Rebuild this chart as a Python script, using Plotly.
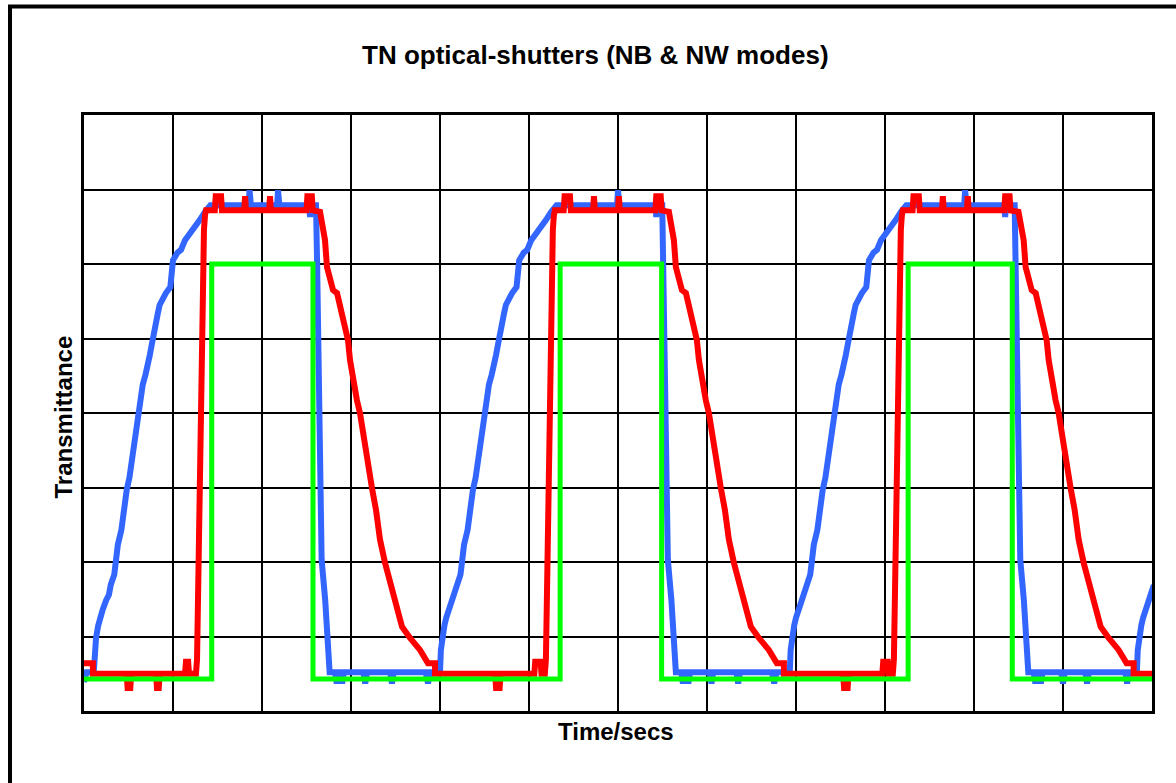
import plotly.graph_objects as go

# ---- data (x in grid divisions of time, y in grid divisions of transmittance) ----
green_x = [0, 1.435, 1.435, 2.573, 2.573, 5.35, 5.35, 6.49, 6.49, 9.26, 9.26, 10.43, 10.43, 12]
green_y = [0.43, 0.43, 6.0, 6.0, 0.43, 0.43, 6.0, 6.0, 0.43, 0.43, 6.0, 6.0, 0.43, 0.43]

# red trace (NB mode), cycle by cycle
red_c1_x = [0, 0.10, 0.10, 0.48, 0.49, 0.52, 0.53, 0.81, 0.82, 0.84, 0.85, 1.135, 1.146, 1.17, 1.18,
            1.258, 1.27, 1.28, 1.29, 1.30, 1.315, 1.337, 1.337, 1.348, 1.36, 1.371,
            1.47, 1.48, 1.54, 1.55, 1.80, 1.81, 1.82, 2.08, 2.09, 2.10, 2.50, 2.51, 2.56, 2.57, 2.652,
            2.685, 2.708, 2.73, 2.764, 2.798, 2.843, 2.876, 2.921, 2.966, 2.989, 3.022, 3.067, 3.101,
            3.146, 3.191, 3.236, 3.281, 3.326, 3.382, 3.461, 3.517, 3.573, 3.663, 3.775, 3.865, 3.944, 3.944]
red_c1_y = [0.64, 0.64, 0.50, 0.50, 0.31, 0.31, 0.50, 0.50, 0.31, 0.31, 0.50, 0.50, 0.66, 0.66, 0.50,
            0.50, 0.69, 1.49, 2.03, 3.50, 4.58, 5.79, 6.32, 6.46, 6.66, 6.72,
            6.72, 6.91, 6.91, 6.72, 6.72, 6.91, 6.72, 6.72, 6.91, 6.72, 6.72, 6.91, 6.91, 6.72, 6.70,
            6.52, 6.32, 5.96, 5.79, 5.65, 5.61, 5.45, 5.25, 4.98, 4.71, 4.44, 4.17, 4.0,
            3.64, 3.30, 2.99, 2.70, 2.30, 1.99, 1.62, 1.42, 1.13, 0.98, 0.82, 0.64, 0.64, 0.50]

red_c2_x = [4.62, 4.63, 4.67, 4.68, 5.06, 5.07, 5.13, 5.14,
            5.178, 5.19, 5.20, 5.21, 5.22, 5.235, 5.257, 5.257, 5.268, 5.28, 5.291,
            5.39, 5.40, 5.46, 5.47, 5.72, 5.73, 5.74, 6.00, 6.01, 6.02, 6.42, 6.43, 6.48, 6.49, 6.572,
            6.605, 6.628, 6.65, 6.684, 6.718, 6.763, 6.796, 6.841, 6.886, 6.909, 6.942, 6.987, 7.021,
            7.066, 7.111, 7.156, 7.201, 7.246, 7.302, 7.381, 7.437, 7.493, 7.583, 7.695, 7.785, 7.864, 7.864]
red_c2_y = [0.50, 0.31, 0.31, 0.50, 0.50, 0.66, 0.66, 0.50,
            0.50, 0.69, 1.49, 2.03, 3.50, 4.58, 5.79, 6.32, 6.46, 6.66, 6.72,
            6.72, 6.91, 6.91, 6.72, 6.72, 6.91, 6.72, 6.72, 6.91, 6.72, 6.72, 6.91, 6.91, 6.72, 6.70,
            6.52, 6.32, 5.96, 5.79, 5.65, 5.61, 5.45, 5.25, 4.98, 4.71, 4.44, 4.17, 4.0,
            3.64, 3.30, 2.99, 2.70, 2.30, 1.99, 1.62, 1.42, 1.13, 0.98, 0.82, 0.64, 0.64, 0.50]

red_c3_x = [8.53, 8.54, 8.58, 8.59, 8.97, 8.98, 9.03, 9.04,
            9.088, 9.10, 9.11, 9.12, 9.13, 9.145, 9.167, 9.167, 9.178, 9.19, 9.201,
            9.31, 9.32, 9.38, 9.39, 9.64, 9.65, 9.66, 9.92, 9.93, 9.94, 10.34, 10.35, 10.40, 10.41, 10.50,
            10.535, 10.558, 10.58, 10.614, 10.648, 10.693, 10.726, 10.771, 10.816, 10.839, 10.872, 10.917,
            10.951, 10.996, 11.041, 11.086, 11.131, 11.176, 11.232, 11.311, 11.367, 11.423, 11.513, 11.625,
            11.715, 11.794, 11.794, 12.0]
red_c3_y = [0.50, 0.31, 0.31, 0.50, 0.50, 0.66, 0.66, 0.50,
            0.50, 0.69, 1.49, 2.03, 3.50, 4.58, 5.79, 6.32, 6.46, 6.66, 6.72,
            6.72, 6.91, 6.91, 6.72, 6.72, 6.91, 6.72, 6.72, 6.91, 6.72, 6.72, 6.91, 6.91, 6.72, 6.70,
            6.52, 6.32, 5.96, 5.79, 5.65, 5.61, 5.45, 5.25, 4.98, 4.71, 4.44, 4.17,
            4.0, 3.64, 3.30, 2.99, 2.70, 2.30, 1.99, 1.62, 1.42, 1.13, 0.98, 0.82,
            0.64, 0.64, 0.50, 0.50]

# blue trace (NW mode), cycle by cycle
blue_c1_x = [0, 0.03, 0.11, 0.12, 0.135, 0.16, 0.18, 0.21, 0.25, 0.28, 0.30, 0.34, 0.36, 0.38, 0.42,
             0.44, 0.46, 0.48, 0.51, 0.53, 0.55, 0.57, 0.60, 0.62, 0.64, 0.66, 0.69, 0.71, 0.74, 0.76,
             0.80, 0.83, 0.85, 0.89, 0.92, 0.97, 0.99, 1.0, 1.05, 1.09, 1.135, 1.18, 1.225, 1.27, 1.30,
             1.36, 1.42, 1.85, 1.86, 1.875, 2.17, 2.18, 2.195, 2.53, 2.54, 2.55, 2.607,
             2.62, 2.63, 2.65, 2.66, 2.67, 2.71, 2.73, 2.74, 2.76,
             2.82, 2.84, 2.86, 2.88, 2.90, 2.92, 3.14, 3.16, 3.18, 3.44, 3.46, 3.48, 3.84, 3.865, 3.89]
blue_c1_y = [0.39, 0.52, 0.52, 0.82, 0.98, 1.15, 1.25, 1.36, 1.49, 1.56, 1.69, 1.83, 2.03, 2.23, 2.43,
             2.63, 2.83, 2.97, 3.13, 3.30, 3.50, 3.70, 3.84, 4.0, 4.20, 4.38, 4.51, 4.67, 4.78, 4.91,
             5.11, 5.34, 5.45, 5.56, 5.61, 5.69, 5.92, 6.05, 6.15, 6.19, 6.32, 6.39, 6.46, 6.52, 6.59,
             6.70, 6.79, 6.79, 6.99, 6.79, 6.79, 6.99, 6.79, 6.79, 6.63, 6.79, 6.79,
             5.96, 4.98, 4.0, 2.99, 2.03, 1.49, 0.95, 0.68, 0.52,
             0.52, 0.37, 0.52, 0.52, 0.37, 0.52, 0.52, 0.37, 0.52, 0.52, 0.37, 0.52, 0.52, 0.37, 0.52]

blue_c2_x = [4.00, 4.01, 4.025, 4.05, 4.07, 4.10, 4.14, 4.17, 4.19, 4.23, 4.25, 4.27, 4.31, 4.33, 4.35,
             4.37, 4.40, 4.42, 4.44, 4.46, 4.49, 4.51, 4.53, 4.55, 4.58, 4.60, 4.63, 4.65, 4.69, 4.72,
             4.74, 4.78, 4.81, 4.86, 4.88, 4.89, 4.94, 4.98, 5.025, 5.07, 5.115, 5.16, 5.19, 5.25, 5.31,
             5.99, 6.00, 6.015, 6.42, 6.43, 6.44, 6.497,
             6.51, 6.52, 6.54, 6.55, 6.56, 6.60, 6.62, 6.63, 6.65,
             6.71, 6.73, 6.75, 6.77, 6.79, 6.81, 7.03, 7.05, 7.07, 7.33, 7.35, 7.37, 7.73, 7.755, 7.78]
blue_c2_y = [0.52, 0.82, 0.98, 1.15, 1.25, 1.36, 1.49, 1.56, 1.69, 1.83, 2.03, 2.23, 2.43, 2.63, 2.83,
             2.97, 3.13, 3.30, 3.50, 3.70, 3.84, 4.0, 4.20, 4.38, 4.51, 4.67, 4.78, 4.91, 5.11, 5.34,
             5.45, 5.56, 5.61, 5.69, 5.92, 6.05, 6.15, 6.19, 6.32, 6.39, 6.46, 6.52, 6.59, 6.70, 6.79,
             6.79, 6.99, 6.79, 6.79, 6.63, 6.79, 6.79,
             5.96, 4.98, 4.0, 2.99, 2.03, 1.49, 0.95, 0.68, 0.52,
             0.52, 0.37, 0.52, 0.52, 0.37, 0.52, 0.52, 0.37, 0.52, 0.52, 0.37, 0.52, 0.52, 0.37, 0.52]

blue_c3_x = [7.93, 7.94, 7.955, 7.98, 8.0, 8.03, 8.07, 8.10, 8.12, 8.16, 8.18, 8.20, 8.24, 8.26, 8.28,
             8.30, 8.33, 8.35, 8.37, 8.39, 8.42, 8.44, 8.46, 8.48, 8.51, 8.53, 8.56, 8.58, 8.62, 8.65,
             8.67, 8.71, 8.74, 8.79, 8.81, 8.82, 8.87, 8.91, 8.955, 9.0, 9.045, 9.09, 9.12, 9.18, 9.24,
             9.89, 9.90, 9.915, 10.34, 10.35, 10.36, 10.457,
             10.47, 10.48, 10.50, 10.51, 10.52, 10.56, 10.58, 10.59, 10.61,
             10.67, 10.69, 10.71, 10.73, 10.75, 10.77, 10.98, 11.0, 11.02, 11.25, 11.27, 11.29,
             11.70, 11.72, 11.74, 11.83, 11.84, 11.855, 11.88, 11.90, 11.93, 11.97, 12.0, 12.02]
blue_c3_y = [0.52, 0.82, 0.98, 1.15, 1.25, 1.36, 1.49, 1.56, 1.69, 1.83, 2.03, 2.23, 2.43, 2.63, 2.83,
             2.97, 3.13, 3.30, 3.50, 3.70, 3.84, 4.0, 4.20, 4.38, 4.51, 4.67, 4.78, 4.91, 5.11, 5.34,
             5.45, 5.56, 5.61, 5.69, 5.92, 6.05, 6.15, 6.19, 6.32, 6.39, 6.46, 6.52, 6.59, 6.70, 6.79,
             6.79, 6.99, 6.79, 6.79, 6.63, 6.79, 6.79,
             5.96, 4.98, 4.0, 2.99, 2.03, 1.49, 0.95, 0.68, 0.52,
             0.52, 0.37, 0.52, 0.52, 0.37, 0.52, 0.52, 0.37, 0.52, 0.52, 0.37, 0.52,
             0.52, 0.37, 0.52, 0.52, 0.82, 0.98, 1.15, 1.25, 1.36, 1.49, 1.56, 1.69]

red_x = red_c1_x + red_c2_x + red_c3_x
red_y = red_c1_y + red_c2_y + red_c3_y
blue_x = blue_c1_x + blue_c2_x + blue_c3_x
blue_y = blue_c1_y + blue_c2_y + blue_c3_y

TITLE = "TN optical-shutters (NB &amp; NW modes)"
X_TITLE = "Time/secs"
Y_TITLE = "Transmittance"

fig = go.Figure()
fig.add_trace(go.Scatter(x=blue_x, y=blue_y, mode="lines",
                         line=dict(color="#3366FF", width=6), hoverinfo="skip"))
fig.add_trace(go.Scatter(x=red_x, y=red_y, mode="lines",
                         line=dict(color="#FF0000", width=6), hoverinfo="skip"))
fig.add_trace(go.Scatter(x=green_x, y=green_y, mode="lines",
                         line=dict(color="#00FF00", width=5), hoverinfo="skip"))

axis_common = dict(showgrid=True, gridcolor="black", gridwidth=2, zeroline=False,
                   showticklabels=False, ticks="", showline=True, linecolor="black",
                   linewidth=3, mirror=True, dtick=1, tick0=0, fixedrange=True)
fig.update_xaxes(range=[0, 12], **axis_common)
fig.update_yaxes(range=[0, 8], **axis_common)

font = "Liberation Sans, Arial, sans-serif"
fig.update_layout(
    width=1176, height=783, showlegend=False,
    margin=dict(l=84, r=24, t=115, b=72),
    paper_bgcolor="white", plot_bgcolor="white",
    font=dict(family=font, color="black"),
    annotations=[
        dict(text="<b>" + TITLE + "</b>", xref="paper", yref="paper", x=0.4785, y=1.0 + 60 / 596,
             showarrow=False, font=dict(size=26), xanchor="center", yanchor="middle"),
        dict(text="<b>" + X_TITLE + "</b>", xref="paper", yref="paper", x=0.4981, y=-20 / 596,
             showarrow=False, font=dict(size=24), xanchor="center", yanchor="middle"),
        dict(text="<b>" + Y_TITLE + "</b>", xref="paper", yref="paper", x=-21 / 1068, y=0.4925,
             showarrow=False, font=dict(size=24), textangle=-90, xanchor="center", yanchor="middle"),
    ],
    shapes=[dict(type="rect", xref="paper", yref="paper", x0=-74 / 1068, x1=1.2,
                 y0=-0.3, y1=1.0 + 108.5 / 596, line=dict(color="black", width=4),
                 fillcolor="rgba(0,0,0,0)", layer="above")],
)
fig.write_html("out.html", config={"displayModeBar": False},
               post_script="document.body.style.margin='0';document.body.style.overflow='hidden';")
